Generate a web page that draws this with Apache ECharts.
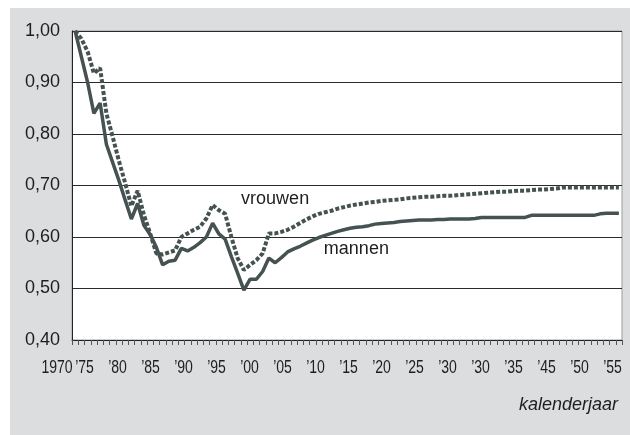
<!DOCTYPE html>
<html>
<head>
<meta charset="utf-8">
<style>
  html, body { margin: 0; padding: 0; background: #fff; }
  #container { width: 630px; height: 435px; }
</style>
</head>
<body>
<div id="container"></div>
<script src="https://cdn.jsdelivr.net/npm/echarts@6/dist/echarts.min.js"></script>
<script>
// jaren op de x-as (categorieën 1970 t/m 2057)
var firstYear = 1970, lastYear = 2057;
var years = [];
for (var y = firstYear; y <= lastYear; y++) years.push(String(y));

// labels zoals in de bron (inclusief de dubbele '30)
var tickLabels = ['1970', '\u201975', '\u201980', '\u201985', '\u201990', '\u201995', '\u201900',
  '\u201905', '\u201910', '\u201915', '\u201920', '\u201925', '\u201930', '\u201930',
  '\u201935', '\u201945', '\u201950', '\u201955'];

var mannen = [
  1.000, 0.950, 0.900, 0.840, 0.860, 0.780, 0.745, 0.710, 0.672, 0.635, // 1970-79
  0.665, 0.623, 0.605, 0.580, 0.546, 0.553, 0.555, 0.578, 0.573, 0.580, // 1980-89
  0.589, 0.600, 0.627, 0.606, 0.596, 0.562, 0.530, 0.497, 0.518, 0.518, // 1990-99
  0.533, 0.559, 0.550, 0.560, 0.571, 0.577, 0.582, 0.588, 0.594, 0.599, // 2000-09
  0.603, 0.607, 0.611, 0.614, 0.617, 0.619, 0.620, 0.622, 0.625, 0.626, // 2010-19
  0.627, 0.628, 0.630, 0.631, 0.632, 0.633, 0.633, 0.633, 0.634, 0.634, // 2020-29
  0.635, 0.635, 0.635, 0.635, 0.636, 0.638, 0.638, 0.638, 0.638, 0.638, // 2030-39
  0.638, 0.638, 0.638, 0.642, 0.642, 0.642, 0.642, 0.642, 0.642, 0.642, // 2040-49
  0.642, 0.642, 0.642, 0.642, 0.645, 0.646, 0.646, 0.646                // 2050-57
];

var vrouwen = [
  1.000, 0.985, 0.960, 0.918, 0.928, 0.840, 0.795, 0.748, 0.705, 0.660, // 1970-79
  0.690, 0.643, 0.607, 0.568, 0.566, 0.570, 0.574, 0.600, 0.607, 0.614, // 1980-89
  0.620, 0.636, 0.662, 0.652, 0.645, 0.600, 0.559, 0.536, 0.546, 0.555, // 1990-99
  0.568, 0.607, 0.607, 0.610, 0.614, 0.620, 0.627, 0.634, 0.640, 0.645, // 2000-09
  0.648, 0.651, 0.655, 0.658, 0.661, 0.663, 0.665, 0.667, 0.668, 0.670, // 2010-19
  0.671, 0.672, 0.673, 0.675, 0.676, 0.677, 0.678, 0.678, 0.679, 0.680, // 2020-29
  0.680, 0.681, 0.682, 0.683, 0.684, 0.685, 0.686, 0.687, 0.688, 0.688, // 2030-39
  0.689, 0.690, 0.690, 0.691, 0.692, 0.692, 0.693, 0.694, 0.696, 0.696, // 2040-49
  0.696, 0.696, 0.696, 0.696, 0.696, 0.696, 0.696, 0.696                // 2050-57
];

var lineColor = '#465252';
var textColor = '#1e1e1e';
var font = '"Liberation Sans", Arial, sans-serif';

var chart = echarts.init(document.getElementById('container'), null, { renderer: 'canvas' });

// naam van de lijn als tekst in de grafiek
function lineName(name, coord) {
  return {
    symbol: 'rect',
    symbolSize: 1,
    silent: true,
    itemStyle: { color: 'rgba(0,0,0,0)' },
    label: { show: true, position: 'inside', formatter: name, fontSize: 18, fontFamily: font, color: textColor },
    data: [{ coord: coord }]
  };
}

var baseGraphic = [
  { id: 'bg', type: 'rect', z: -100, silent: true, shape: { x: 10, y: 8, width: 620, height: 427 }, style: { fill: '#dcdddf' } },
  { id: 'xname', type: 'text', right: 12, top: 396, style: { text: 'kalenderjaar', fontSize: 18, fontStyle: 'italic', fontFamily: font, fill: textColor } }
];

var option = {
  animation: false,
  textStyle: { fontFamily: font },
  graphic: baseGraphic,
  grid: [
    { left: 72, right: 8, top: 31, bottom: 95, show: true, backgroundColor: '#fff', borderColor: '#9c9c9c', borderWidth: 1 },
    // rij met jaartal-labels (staat los van de jaarstreepjes, zoals in de bron)
    { left: 51.5, right: 17.5, top: 31, bottom: 95 }
  ],
  xAxis: [
    {
      gridIndex: 0, type: 'category', data: years, boundaryGap: true,
      axisLine: { lineStyle: { color: '#222', width: 1 } },
      axisTick: { show: true, interval: 0, length: 5, lineStyle: { color: '#555' } },
      axisLabel: { show: false },
      splitLine: { show: false }
    },
    {
      gridIndex: 1, type: 'category', boundaryGap: false, data: tickLabels,
      axisLine: { show: false }, axisTick: { show: false }, axisLabel: { show: false }
    }
  ],
  yAxis: [
    {
      gridIndex: 0, type: 'value', min: 0.4, max: 1.0, interval: 0.1,
      axisLine: { show: true, lineStyle: { color: '#222' } },
      axisTick: { show: false },
      axisLabel: {
        margin: 12, fontSize: 18, color: textColor,
        formatter: function (v) { return v.toFixed(2).replace('.', ','); }
      },
      splitLine: { lineStyle: { color: '#2a2a2a', width: 1 } }
    },
    { gridIndex: 1, type: 'value', show: false }
  ],
  series: [
    {
      name: 'mannen', type: 'line', data: mannen, symbol: 'none',
      lineStyle: { color: lineColor, width: 3.5 },
      markPoint: lineName('mannen', ['2015', 0.576])
    },
    {
      name: 'vrouwen', type: 'line', data: vrouwen, symbol: 'none',
      lineStyle: { color: lineColor, width: 4, type: [4, 2] },
      markPoint: lineName('vrouwen', ['2002', 0.674])
    }
  ]
};

chart.setOption(option);

// smalle (versmalde) jaartal-labels, geplaatst via de label-as
function placeTickLabels() {
  var py = chart.convertToPixel({ yAxisIndex: 0 }, 0.4);
  var labels = tickLabels.map(function (t, i) {
    var px = chart.convertToPixel({ xAxisIndex: 1 }, i);
    if (i === 0) px += 5.5; // "1970" is breder
    return {
      id: 'tl' + i, type: 'text', x: px, y: py + 19, scaleX: 0.78, silent: true,
      style: { text: t, fontSize: 18, fontFamily: font, fill: textColor, align: 'center', verticalAlign: 'top' }
    };
  });
  chart.setOption({ graphic: baseGraphic.concat(labels) });
}
placeTickLabels();
window.addEventListener('resize', function () { chart.resize(); placeTickLabels(); });
</script>
</body>
</html>
